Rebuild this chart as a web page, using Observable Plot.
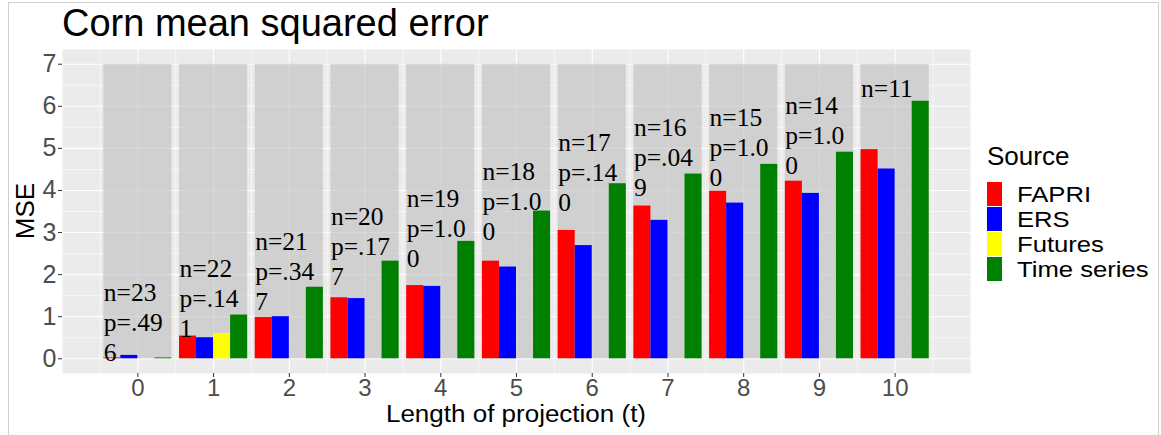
<!DOCTYPE html>
<html>
<head>
<meta charset="utf-8">
<script src="https://cdn.jsdelivr.net/npm/d3@7"></script>
<script src="https://cdn.jsdelivr.net/npm/@observablehq/plot@0.6"></script>
<style>
  body { margin: 0; background: #fff; }
  #wrap { position: relative; width: 1161px; height: 435px; overflow: hidden; font-family: "Liberation Sans", Arial, sans-serif; color: #000; }
  .abs { position: absolute; white-space: nowrap; }
</style>
</head>
<body>
<div id="wrap">
  <div id="chart" class="abs" style="left:0;top:0;"></div>
  <div class="abs" style="left:62px;top:3.8px;font-size:38px;line-height:38px;">Corn mean squared error</div>
  <div class="abs" style="left:316px;top:403.5px;width:400px;text-align:center;font-size:23px;line-height:20px;transform:scaleX(1.13);transform-origin:50% 50%;">Length of projection (t)</div>
  <div class="abs" style="left:-25px;top:198px;width:100px;height:26px;text-align:center;font-size:26px;line-height:26px;transform:rotate(-90deg);">MSE</div>
  <div id="legend"></div>
  <div class="abs" style="left:8px;top:2px;width:1149px;height:460px;border:1px solid #cfcfcf;pointer-events:none;"></div>
</div>
<script>
// ---- data ----
const horizons = [0, 1, 2, 3, 4, 5, 6, 7, 8, 9, 10];
const sources = ["FAPRI", "ERS", "Futures", "Time series"];
const sourceColors = ["#FF0000", "#0000FF", "#FFFF00", "#008000"];
const fapri      = [0.02, 0.54, 0.98, 1.45, 1.74, 2.32, 3.05, 3.63, 3.98, 4.22, 4.97];
const ers        = [0.08, 0.50, 1.00, 1.43, 1.72, 2.18, 2.69, 3.29, 3.70, 3.93, 4.51];
const futures    = [null, 0.60, null, null, null, null, null, null, null, null, null];
const timeSeries = [0.02, 1.04, 1.70, 2.32, 2.79, 3.51, 4.16, 4.39, 4.62, 4.91, 6.12];
const backdrop   = [7, 7, 7, 7, 7, 7, 7, 7, 7, 7, 7];
const nObs       = [23, 22, 21, 20, 19, 18, 17, 16, 15, 14, 11];
const pValues    = [".496", ".141", ".347", ".177", "1.00", "1.00", ".140", ".049", "1.00", "1.00", null];
const labelBaseline = [1.38, 1.95, 2.59, 3.18, 3.61, 4.25, 4.94, 5.29, 5.53, 5.81, 6.22];
const yTicks = [0, 1, 2, 3, 4, 5, 6, 7];
const xTicks = horizons;

// ---- derived tables ----
const seriesBySource = [fapri, ers, futures, timeSeries];
const groupWidth = 0.9;
const barWidth = groupWidth / sources.length;
const bars = [];
horizons.forEach((t, k) => {
  sources.forEach((s, i) => {
    const v = seriesBySource[i][k];
    if (v != null) bars.push({t, source: s, slot: i, value: v});
  });
});
const labels = [];
horizons.forEach((t, k) => {
  const lines = ["n=" + nObs[k]];
  if (pValues[k] != null) {
    const p = "p=" + pValues[k];
    lines.push(p.slice(0, 5));
    if (p.length > 5) lines.push(p.slice(5));
  }
  lines.forEach((text, line) => labels.push({t, y: labelBaseline[k], line, text}));
});
const yMinor = yTicks.slice(0, -1).map(v => v + 0.5);
const xMinor = [-0.5, ...xTicks.map(v => v + 0.5)];

const lineMarks = [0, 1, 2].map(line => Plot.text(labels.filter(d => d.line === line), {
  x: d => d.t - groupWidth / 2,
  y: "y",
  text: "text",
  dy: line * 30,
  textAnchor: "start",
  lineAnchor: "bottom",
  fontSize: 25.5,
  fontFamily: "Liberation Serif, Times New Roman, serif",
  fill: "black"
}));

const chart = Plot.plot({
  width: 1161,
  height: 435,
  marginLeft: 62,
  marginRight: 191,
  marginTop: 49,
  marginBottom: 62,
  x: {domain: [-0.995, 10.995]},
  y: {domain: [-0.35, 7.35]},
  color: {domain: sources, range: sourceColors},
  style: {fontFamily: "Liberation Sans, Arial, sans-serif", background: "white"},
  marks: [
    Plot.frame({fill: "#EBEBEB", stroke: "none"}),
    Plot.gridY(yMinor, {stroke: "white", strokeOpacity: 1, strokeWidth: 0.55}),
    Plot.gridX(xMinor, {stroke: "white", strokeOpacity: 1, strokeWidth: 0.55}),
    Plot.gridY(yTicks, {stroke: "white", strokeOpacity: 1, strokeWidth: 1.1}),
    Plot.gridX(xTicks, {stroke: "white", strokeOpacity: 1, strokeWidth: 1.1}),
    Plot.rectY(horizons, {
      x1: t => t - groupWidth / 2,
      x2: t => t + groupWidth / 2,
      y1: 0,
      y2: (t, i) => backdrop[i],
      fill: "#BEBEBE",
      fillOpacity: 0.6
    }),
    Plot.rectY(bars, {
      x1: d => d.t - groupWidth / 2 + d.slot * barWidth,
      x2: d => d.t - groupWidth / 2 + (d.slot + 1) * barWidth,
      y1: 0,
      y2: "value",
      fill: "source"
    }),
    ...lineMarks,
    Plot.axisY(yTicks, {tickSize: 4, tickPadding: 2, fontSize: 25, stroke: "#333333", fill: "#4D4D4D", label: null}),
    Plot.axisX(xTicks, {tickSize: 4, tickPadding: 1, fontSize: 24, stroke: "#333333", fill: "#4D4D4D", label: null, tickFormat: d => String(d)})
  ]
});
document.getElementById("chart").appendChild(chart);

// ---- legend ----
const legend = document.getElementById("legend");
const title = document.createElement("div");
title.className = "abs";
title.style.cssText = "left:987px;top:143px;font-size:26px;line-height:26px;";
title.textContent = "Source";
legend.appendChild(title);
sources.forEach((s, i) => {
  const key = document.createElement("div");
  key.className = "abs";
  key.style.cssText = `left:987px;top:${181.5 + i * 25}px;width:15px;height:24px;background:${sourceColors[i]};`;
  legend.appendChild(key);
  const lab = document.createElement("div");
  lab.className = "abs";
  lab.style.cssText = `left:1017px;top:${185.3 + i * 25}px;font-size:22.3px;line-height:20px;transform:scaleX(1.15);transform-origin:0 50%;`;
  lab.textContent = s;
  legend.appendChild(lab);
});
</script>
</body>
</html>
